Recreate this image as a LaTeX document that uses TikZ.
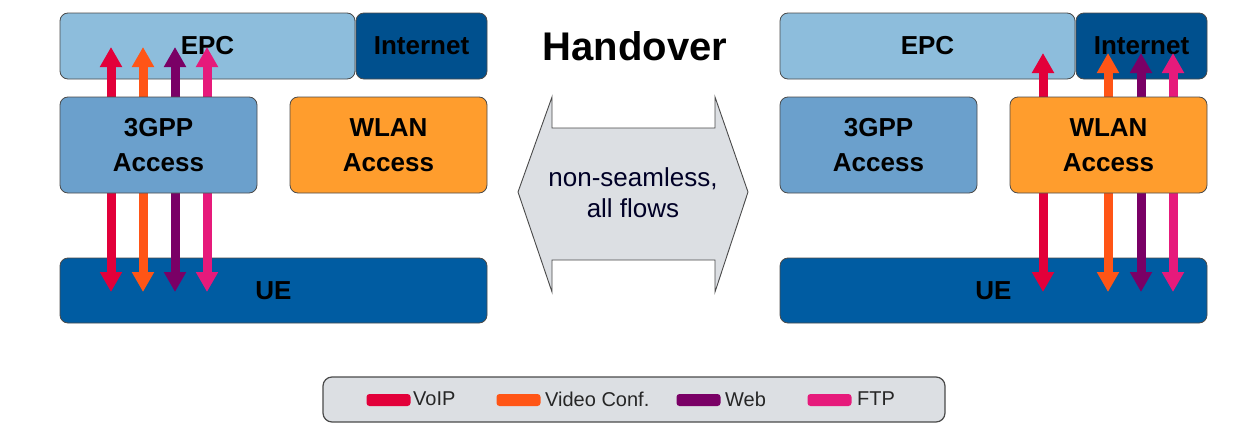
\documentclass[tikz,border=0pt]{standalone}
\usepackage{fontspec}
\setmainfont{Liberation Sans}
\usetikzlibrary{arrows.meta}
\definecolor{epcc}{HTML}{8DBDDC}
\definecolor{inetc}{HTML}{00508E}
\definecolor{gppc}{HTML}{6BA0CC}
\definecolor{wlanc}{HTML}{FF9D2D}
\definecolor{uec}{HTML}{005CA2}
\definecolor{voipc}{HTML}{E2003A}
\definecolor{videoc}{HTML}{FF5516}
\definecolor{webc}{HTML}{7A0066}
\definecolor{ftpc}{HTML}{E61A7B}
\definecolor{greyfill}{HTML}{DCDFE3}
\definecolor{boxline}{HTML}{4A4A4A}
\begin{document}
\begin{tikzpicture}[x=1pt,y=-1pt,
  box/.style={draw=boxline, line width=0.8pt, rounded corners=8pt, inner sep=0pt,
    font=\fontsize{26}{35}\selectfont\bfseries, align=center, text=black},
  flow/.style={line width=9pt, {Triangle[width=21pt,length=20pt]}-{Triangle[width=21pt,length=20pt]}},
  swatch/.style={minimum width=44pt, minimum height=12pt, inner sep=0pt, rounded corners=3pt},
  leglabel/.style={anchor=west, inner sep=0pt, font=\fontsize{20}{24}\selectfont, text=black!85}
]
\useasboundingbox (0,0) rectangle (1256,447);

% ---------- left panel ----------
\node[box, fill=epcc, minimum width=295pt, minimum height=66pt] (epcL) at (207.5,46) {EPC};
\node[box, fill=inetc, minimum width=131pt, minimum height=66pt] (inetL) at (421.5,46) {Internet};
\node[box, fill=uec, minimum width=427pt, minimum height=65pt] (ueL) at (273.5,290.5) {UE};

\coordinate (l1t) at (111,47);  \coordinate (l1b) at (111,292);
\coordinate (l2t) at (143,47);  \coordinate (l2b) at (143,292);
\coordinate (l3t) at (175,47);  \coordinate (l3b) at (175,292);
\coordinate (l4t) at (207,47);  \coordinate (l4b) at (207,292);
\draw[flow, voipc]  (l1t) -- (l1b);
\draw[flow, videoc] (l2t) -- (l2b);
\draw[flow, webc]   (l3t) -- (l3b);
\draw[flow, ftpc]   (l4t) -- (l4b);

\node[box, fill=gppc, minimum width=197pt, minimum height=96pt] (gppL) at (158.5,145) {3GPP\\Access};
\node[box, fill=wlanc, minimum width=197pt, minimum height=96pt] (wlanL) at (388.5,145) {WLAN\\Access};

% ---------- right panel ----------
\node[box, fill=epcc, minimum width=295pt, minimum height=66pt] (epcR) at (927.5,46) {EPC};
\node[box, fill=inetc, minimum width=131pt, minimum height=66pt] (inetR) at (1141.5,46) {Internet};
\node[box, fill=uec, minimum width=427pt, minimum height=65pt] (ueR) at (993.5,290.5) {UE};

\coordinate (r1t) at (1043,53);  \coordinate (r1b) at (1043,292);
\coordinate (r2t) at (1108,53);  \coordinate (r2b) at (1108,292);
\coordinate (r3t) at (1141,53);  \coordinate (r3b) at (1141,292);
\coordinate (r4t) at (1173,53);  \coordinate (r4b) at (1173,292);
\draw[flow, voipc]  (r1t) -- (r1b);
\draw[flow, videoc] (r2t) -- (r2b);
\draw[flow, webc]   (r3t) -- (r3b);
\draw[flow, ftpc]   (r4t) -- (r4b);

\node[box, fill=gppc, minimum width=197pt, minimum height=96pt] (gppR) at (878.5,145) {3GPP\\Access};
\node[box, fill=wlanc, minimum width=197pt, minimum height=96pt] (wlanR) at (1108.5,145) {WLAN\\Access};

% ---------- middle ----------
\node[anchor=base, inner sep=0pt, font=\fontsize{40}{44}\selectfont\bfseries] (ho) at (635,60) {Handover};
\draw[draw=boxline, line width=0.9pt, fill=greyfill]
  (552,97) -- (552,128) -- (715,128) -- (715,97) -- (748,192) -- (715,292) -- (715,260)
  -- (552,260) -- (552,292) -- (518,192) -- cycle;
\node[inner sep=0pt, align=center, text=black!85!blue, font=\fontsize{26}{31}\selectfont] (hotext) at (633,193) {non-seamless,\\all flows};

% ---------- legend ----------
\node[draw=boxline, line width=1.2pt, fill=greyfill, rounded corners=9pt,
      minimum width=622pt, minimum height=45pt, inner sep=0pt] (legend) at (634,399.5) {};
\node[swatch, fill=voipc]  (sw1) at (388.5,400) {};
\node[leglabel] (lg1) at (413,399) {VoIP};
\node[swatch, fill=videoc] (sw2) at (518.5,400) {};
\node[leglabel] (lg2) at (545,399) {Video Conf.};
\node[swatch, fill=webc]   (sw3) at (698.5,400) {};
\node[leglabel] (lg3) at (725,399) {Web};
\node[swatch, fill=ftpc]   (sw4) at (829.5,400) {};
\node[leglabel] (lg4) at (857,399) {FTP};
\end{tikzpicture}
\end{document}
